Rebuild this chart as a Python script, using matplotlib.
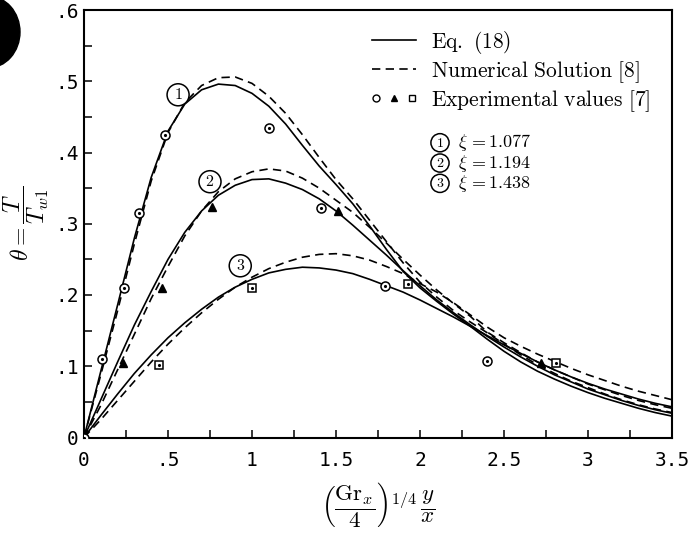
import numpy as np
import matplotlib
matplotlib.use('Agg')
import matplotlib.pyplot as plt
from matplotlib.lines import Line2D
from matplotlib.legend_handler import HandlerTuple
from matplotlib.patches import Ellipse

plt.rcParams['mathtext.fontset'] = 'cm'

# ---------------- data ----------------
eta = [0.0, 0.1, 0.2, 0.3, 0.4, 0.5, 0.6, 0.7, 0.8, 0.9, 1.0, 1.1, 1.2, 1.3, 1.4,
       1.5, 1.6, 1.7, 1.8, 1.9, 2.0, 2.1, 2.2, 2.3, 2.4, 2.5, 2.6, 2.7, 2.8, 2.9,
       3.0, 3.1, 3.2, 3.3, 3.4, 3.5]

# Eq. (18)
eq_xi1 = [0.0, 0.093, 0.186, 0.280, 0.365, 0.430, 0.468, 0.488, 0.496, 0.494,
          0.483, 0.465, 0.440, 0.410, 0.381, 0.355, 0.328, 0.297, 0.264, 0.233,
          0.210, 0.191, 0.173, 0.156, 0.138, 0.121, 0.106, 0.093, 0.082, 0.072,
          0.063, 0.055, 0.048, 0.041, 0.035, 0.030]
eq_xi2 = [0.0, 0.053, 0.106, 0.158, 0.205, 0.250, 0.288, 0.318, 0.340, 0.354,
          0.362, 0.363, 0.357, 0.348, 0.335, 0.318, 0.298, 0.277, 0.256, 0.234,
          0.213, 0.193, 0.175, 0.158, 0.142, 0.127, 0.113, 0.100, 0.088, 0.078,
          0.068, 0.060, 0.052, 0.045, 0.039, 0.034]
eq_xi3 = [0.0, 0.031, 0.061, 0.090, 0.116, 0.140, 0.161, 0.180, 0.197, 0.211,
          0.222, 0.231, 0.236, 0.239, 0.238, 0.235, 0.230, 0.222, 0.213, 0.204,
          0.193, 0.181, 0.169, 0.156, 0.143, 0.130, 0.118, 0.106, 0.095, 0.085,
          0.076, 0.068, 0.061, 0.054, 0.048, 0.043]

# Numerical solution [8]
num_xi1 = [0.0, 0.088, 0.178, 0.272, 0.360, 0.428, 0.470, 0.494, 0.505, 0.506,
           0.497, 0.479, 0.455, 0.425, 0.393, 0.362, 0.335, 0.305, 0.275, 0.245,
           0.218, 0.197, 0.178, 0.162, 0.147, 0.131, 0.116, 0.102, 0.090, 0.079,
           0.070, 0.061, 0.053, 0.046, 0.040, 0.035]
num_xi2 = [0.0, 0.045, 0.095, 0.145, 0.195, 0.240, 0.283, 0.318, 0.345, 0.363,
           0.373, 0.377, 0.374, 0.364, 0.350, 0.333, 0.316, 0.295, 0.273, 0.250,
           0.228, 0.207, 0.188, 0.170, 0.148, 0.133, 0.119, 0.106, 0.095, 0.085,
           0.075, 0.067, 0.059, 0.052, 0.046, 0.041]
num_xi3 = [0.0, 0.025, 0.052, 0.079, 0.106, 0.131, 0.154, 0.175, 0.194, 0.211,
           0.225, 0.237, 0.246, 0.253, 0.257, 0.258, 0.255, 0.249, 0.240, 0.230,
           0.216, 0.204, 0.189, 0.172, 0.155, 0.140, 0.128, 0.117, 0.107, 0.097,
           0.088, 0.080, 0.072, 0.065, 0.059, 0.053]

# Experimental values [7]
exp_circ_x = [0.0, 0.11, 0.24, 0.33, 0.48, 1.10, 1.41, 1.79, 2.40]
exp_circ_y = [0.0, 0.110, 0.210, 0.315, 0.425, 0.435, 0.322, 0.213, 0.108]
exp_tri_x = [0.235, 0.465, 0.76, 1.51, 2.72]
exp_tri_y = [0.105, 0.210, 0.324, 0.318, 0.105]
exp_sq_x = [0.445, 1.00, 1.93, 2.81]
exp_sq_y = [0.102, 0.210, 0.215, 0.105]

xi_values = ['1.077', '1.194', '1.438']
xticks = [0, 0.5, 1, 1.5, 2, 2.5, 3, 3.5]
xticklabels = ['0', '.5', '1', '1.5', '2', '2.5', '3', '3.5']
yticks = [0, 0.1, 0.2, 0.3, 0.4, 0.5, 0.6]
yticklabels = ['0', '.1', '.2', '.3', '.4', '.5', '.6']

# ---------------- figure ----------------
W, H = 690, 533
fig = plt.figure(figsize=(W / 100, H / 100), dpi=100)
ax = fig.add_axes([84 / W, (H - 437.5) / H, 588 / W, 427.5 / H])

lw = 1.2
dash = (0, (5, 3.2))
for ys in (eq_xi1, eq_xi2, eq_xi3):
    ax.plot(eta, ys, color='black', lw=lw, solid_capstyle='butt')
for ys in (num_xi1, num_xi2, num_xi3):
    ax.plot(eta, ys, color='black', lw=lw, linestyle=dash)

ms = 6.5
ax.plot(exp_circ_x, exp_circ_y, 'o', ms=ms, mfc='white', mec='black', mew=1.1, zorder=5)
ax.plot(exp_circ_x, exp_circ_y, '.', ms=2.5, color='black', zorder=6)
ax.plot(exp_tri_x, exp_tri_y, '^', ms=5.5, mfc='black', mec='black', zorder=5)
ax.plot(exp_sq_x, exp_sq_y, 's', ms=6, mfc='white', mec='black', mew=1.1, zorder=5)
ax.plot(exp_sq_x, exp_sq_y, '.', ms=2.5, color='black', zorder=6)

ax.set_xlim(0, 3.5)
ax.set_ylim(0, 0.6)
ax.set_xticks(xticks)
ax.set_xticklabels(xticklabels)
ax.set_yticks(yticks)
ax.set_yticklabels(yticklabels)
ax.set_xticks(np.arange(0, 3.51, 0.25), minor=True)
ax.set_yticks(np.arange(0, 0.601, 0.05), minor=True)
ax.tick_params(which='both', direction='in', length=5.5, width=1.1)
ax.tick_params(axis='x', which='major', pad=10)
ax.tick_params(axis='y', which='major', pad=4)
for lab in ax.get_xticklabels() + ax.get_yticklabels():
    lab.set_family('DejaVu Sans Mono')
    lab.set_fontsize(14)
for s in ax.spines.values():
    s.set_linewidth(1.5)

ax.set_xlabel(r'$\left(\dfrac{\mathrm{Gr}_x}{4}\right)^{1/4}\,\dfrac{y}{x}$',
              fontsize=16.5, labelpad=7)
ax.set_ylabel(r'$\theta = \dfrac{T}{T_{w1}}$', fontsize=17, labelpad=3)

# curve labels (circled numbers)
circ = dict(boxstyle='circle,pad=0.22', fc='white', ec='black', lw=1.1)
for (cx, cy, t) in [(0.56, 0.481, '1'), (0.75, 0.359, '2'), (0.93, 0.241, '3')]:
    ax.text(cx, cy, r'$\mathbf{%s}$' % t, fontsize=11.5, ha='center', va='center',
            bbox=circ, zorder=7)

# xi table
for i, v in enumerate(xi_values):
    yy = 0.4137 - i * 0.0285
    ax.text(2.119, yy, r'$\mathbf{%d}$' % (i + 1), fontsize=10, ha='center', va='center',
            bbox=dict(boxstyle='circle,pad=0.15', fc='white', ec='black', lw=1.1))
    ax.text(2.226, yy, r'$\xi\, = \mathbf{%s}$' % v, fontsize=13, ha='left', va='center')

# legend
h_eq = Line2D([], [], color='black', lw=lw)
h_num = Line2D([], [], color='black', lw=lw, linestyle=dash)
h_c = Line2D([], [], marker='o', ms=5, mfc='white', mec='black', mew=1.0, ls='none')
h_t = Line2D([], [], marker='^', ms=5, mfc='black', mec='black', ls='none')
h_s = Line2D([], [], marker='s', ms=5, mfc='white', mec='black', mew=1.0, ls='none')
leg = ax.legend([h_eq, h_num, (h_c, h_t, h_s)],
                [r'$\mathrm{Eq.\ (18)}$', r'$\mathrm{Numerical\ Solution\ [8]}$',
                 r'$\mathrm{Experimental\ values\ [7]}$'],
                handler_map={tuple: HandlerTuple(ndivide=None, pad=0.5)},
                loc='upper left', bbox_to_anchor=(361 / W, (H - 18) / H),
                bbox_transform=fig.transFigure, frameon=False, fontsize=15.5,
                handlelength=2.05, handletextpad=0.72, labelspacing=0.15, borderpad=0)

# hole-punch mark at top-left of the scan
fig.patches.append(Ellipse((-12 / W, (H - 32) / H), 64 / W, 72 / H,
                           transform=fig.transFigure, color='black'))

fig.savefig('out.png', dpi=100)
